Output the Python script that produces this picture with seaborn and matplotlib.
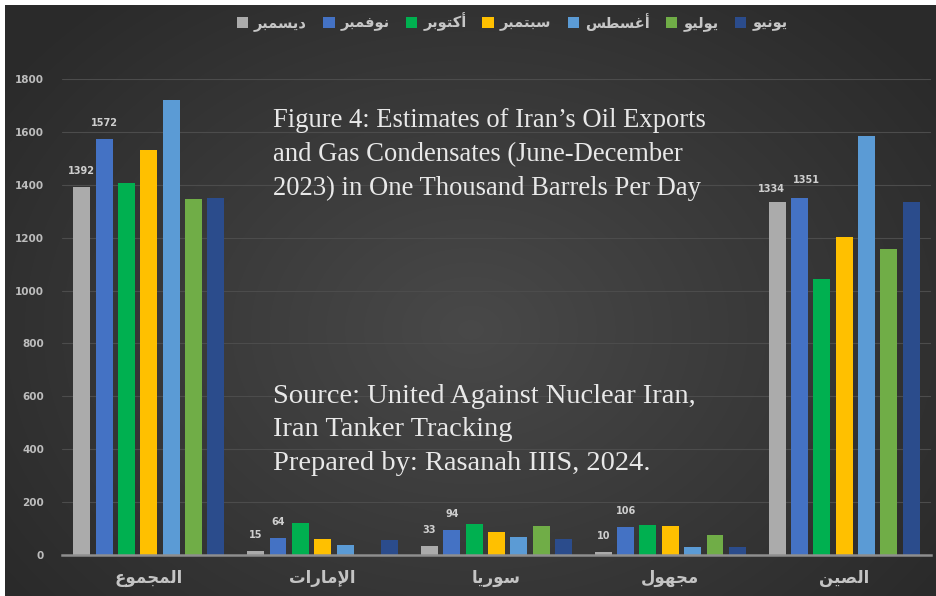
import numpy as np
import pandas as pd
import matplotlib
matplotlib.use("Agg")
import matplotlib.pyplot as plt
import seaborn as sns

# ---------------- data ----------------
categories = ["المجموع", "الإمارات", "سوريا", "مجهول", "الصين"]
months = ["ديسمبر", "نوفمبر", "أكتوبر", "سبتمبر", "أغسطس", "يوليو", "يونيو"]
dec = [1392, 15, 33, 10, 1334]
nov = [1572, 64, 94, 106, 1351]
oct_ = [1405, 122, 118, 114, 1042]
sep = [1530, 60, 88, 110, 1204]
aug = [1722, 38, 69, 31, 1585]
jul = [1345, 0, 110, 76, 1156]
jun = [1350, 57, 62, 30, 1334]
yticks = [0, 200, 400, 600, 800, 1000, 1200, 1400, 1600, 1800]

colors = ["#ababab", "#4472c4", "#00b050", "#ffc000", "#5b9bd5", "#70ad47", "#2b4c8c"]

title_lines = ["Figure 4: Estimates of Iran\u2019s Oil Exports",
               "and Gas Condensates (June-December",
               "2023) in One Thousand Barrels Per Day"]
source_lines = ["Source: United Against Nuclear Iran,",
                "Iran Tanker Tracking",
                "Prepared by: Rasanah IIIS, 2024."]

# ------------- Arabic shaping (presentation forms, visual order) -------------
AR_FORMS = {
    "ا": ("\uFE8D", "\uFE8E", None, None),
    "أ": ("\uFE83", "\uFE84", None, None),
    "إ": ("\uFE87", "\uFE88", None, None),
    "ب": ("\uFE8F", "\uFE90", "\uFE91", "\uFE92"),
    "ت": ("\uFE95", "\uFE96", "\uFE97", "\uFE98"),
    "ج": ("\uFE9D", "\uFE9E", "\uFE9F", "\uFEA0"),
    "د": ("\uFEA9", "\uFEAA", None, None),
    "ر": ("\uFEAD", "\uFEAE", None, None),
    "س": ("\uFEB1", "\uFEB2", "\uFEB3", "\uFEB4"),
    "ص": ("\uFEB9", "\uFEBA", "\uFEBB", "\uFEBC"),
    "ط": ("\uFEC1", "\uFEC2", "\uFEC3", "\uFEC4"),
    "ع": ("\uFEC9", "\uFECA", "\uFECB", "\uFECC"),
    "غ": ("\uFECD", "\uFECE", "\uFECF", "\uFED0"),
    "ف": ("\uFED1", "\uFED2", "\uFED3", "\uFED4"),
    "ك": ("\uFED9", "\uFEDA", "\uFEDB", "\uFEDC"),
    "ل": ("\uFEDD", "\uFEDE", "\uFEDF", "\uFEE0"),
    "م": ("\uFEE1", "\uFEE2", "\uFEE3", "\uFEE4"),
    "ن": ("\uFEE5", "\uFEE6", "\uFEE7", "\uFEE8"),
    "ه": ("\uFEE9", "\uFEEA", "\uFEEB", "\uFEEC"),
    "و": ("\uFEED", "\uFEEE", None, None),
    "ي": ("\uFEF1", "\uFEF2", "\uFEF3", "\uFEF4"),
}
LAM_ALEF = {"ا": ("\uFEFB", "\uFEFC"), "أ": ("\uFEF7", "\uFEF8"), "إ": ("\uFEF9", "\uFEFA")}


def shape_ar(word):
    chars = list(word)
    n = len(chars)
    out = []
    dual = lambda c: c in AR_FORMS and AR_FORMS[c][2] is not None
    i = 0
    while i < n:
        c = chars[i]
        if c not in AR_FORMS:
            out.append(c)
            i += 1
            continue
        prev = chars[i - 1] if i > 0 else None
        cp = prev is not None and dual(prev)
        if c == "ل" and i + 1 < n and chars[i + 1] in LAM_ALEF:
            out.append(LAM_ALEF[chars[i + 1]][1 if cp else 0])
            i += 2
            continue
        nxt = chars[i + 1] if i + 1 < n else None
        cn = dual(c) and nxt is not None and nxt in AR_FORMS
        iso, fin, ini, med = AR_FORMS[c]
        out.append(med if (cp and cn) else fin if cp else ini if cn else iso)
        i += 1
    return "".join(reversed(out))


# ---------------- build table ----------------
series = [dec, nov, oct_, sep, aug, jul, jun]
rows = []
for m, vals in zip(months, series):
    for c, v in zip(categories, vals):
        rows.append({"category": c, "month": m, "value": v})
df = pd.DataFrame(rows)

# ---------------- figure ----------------
sns.set_theme(style="dark")
plt.rcParams["font.family"] = ["DejaVu Sans"]

W, H = 937, 596
fig = plt.figure(figsize=(W / 100, H / 100), dpi=100, facecolor="white")

# background gradient
bg = fig.add_axes([5 / W, 0, 1 - 5 / W, 1 - 5 / H])
bg.axis("off")
yy, xx = np.mgrid[0:1:300j, 0:1:470j]
r = np.sqrt(((xx - 0.5) / 0.62) ** 2 + ((yy - 0.55) / 0.75) ** 2)
g = 0.285 - 0.12 * np.clip(r, 0, 1)
bg.imshow(np.dstack([g, g, g]), aspect="auto", extent=[0, 1, 0, 1], interpolation="bilinear")

ax = fig.add_axes([62 / W, 1 - 555 / H, (931 - 62) / W, (555 - 79) / H])
ax.patch.set_alpha(0)

sns.barplot(data=df, x="category", y="value", hue="month", order=categories,
            hue_order=months, palette=colors, saturation=1, width=0.9, gap=0.24,
            errorbar=None, ax=ax, legend=True, linewidth=0, edgecolor="none")

handles, _ = ax.get_legend_handles_labels()
ax.get_legend().remove()

ax.set_ylim(0, 1800)
ax.set_xlim(-0.5, 4.5)
ax.set_yticks(yticks)
ax.set_yticklabels([str(t) for t in yticks], fontsize=7.5, fontweight="bold", color="#bdbdbd")
ax.set_xticks(range(len(categories)))
ax.set_xticklabels([shape_ar(c) for c in categories], fontsize=12, fontweight="bold",
                   color="#c4c4c4", family=["DejaVu Sans"])
ax.tick_params(axis="y", length=0, pad=13)
ax.tick_params(axis="x", length=0, pad=10)
ax.set_xlabel("")
ax.set_ylabel("")
ax.yaxis.grid(True, color="#4c4c4c", lw=0.8)
ax.xaxis.grid(False)
ax.set_axisbelow(True)
for s in ["top", "right", "left"]:
    ax.spines[s].set_visible(False)
ax.spines["bottom"].set_color("#8e8e8e")
ax.spines["bottom"].set_linewidth(1.8)

# value labels for December and November
label_sets = []
for cont, vals in zip(ax.containers[:2], [dec, nov]):
    texts = ax.bar_label(cont, labels=[str(v) for v in vals], padding=8, fontsize=7,
                         fontweight="bold", color="#cfcfcf")
    label_sets.append(texts)
# nudge the two crowded China labels apart, as in the reference
label_sets[0][-1].xyann = (-4, 6)
label_sets[1][-1].xyann = (5, 9)

fig.legend(handles, [shape_ar(m) for m in months], loc="center",
           bbox_to_anchor=(512 / W, 1 - 22 / H), ncol=7, frameon=False,
           labelcolor="#c6c6c6", handlelength=0.8, handleheight=0.8,
           handletextpad=0.4, columnspacing=1.1,
           prop={"family": ["DejaVu Sans"], "weight": "bold", "size": 10.5})

for k, line in enumerate(title_lines):
    fig.text(273 / W, 1 - (127 + 34 * k) / H, line, family=["Liberation Serif"],
             fontsize=19.2, color="#e8e8e8", va="baseline", ha="left")
for k, line in enumerate(source_lines):
    fig.text(273 / W, 1 - (403 + 33.5 * k) / H, line, family=["Liberation Serif"],
             fontsize=20.5, color="#e8e8e8", va="baseline", ha="left")

fig.savefig("out.png", dpi=100, facecolor=fig.get_facecolor())
